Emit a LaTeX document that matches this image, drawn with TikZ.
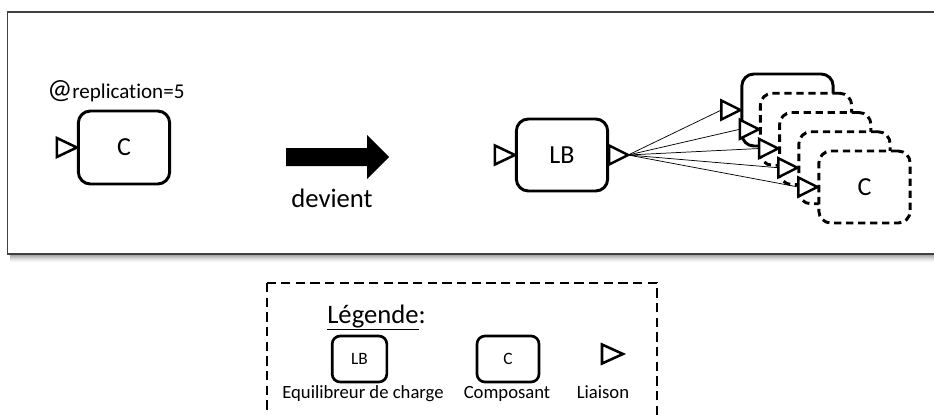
\documentclass[tikz,border=0pt]{standalone}
\usepackage{fontspec}
\setmainfont{Carlito}[Ligatures=NoCommon]
\tikzset{
  comp/.style={draw, fill=white, line width=2.2pt, rounded corners=9pt, inner sep=0pt,
    minimum width=68.5pt, minimum height=54pt},
  compd/.style={comp, dash pattern=on 5.5pt off 3.5pt},
  smallcomp/.style={draw, fill=white, line width=2pt, rounded corners=6pt, inner sep=0pt,
    minimum width=#1, minimum height=34.5pt},
  portstyle/.style={draw, fill=white, line width=1.9pt, line join=miter},
  link/.style={line width=0.55pt},
  lbl/.style={inner sep=0pt},
  framecol/.style={draw=black!75, line width=1.1pt},
}
\newcommand\myport[3][20]{%
  \draw[portstyle] (#3) -- ++(-#1,9.5) -- ++(0,-19) -- cycle;
  \coordinate (#2) at ([xshift=-#1*0.75pt]#3);}
\begin{document}
\begin{tikzpicture}[x=0.75pt,y=-0.75pt]
\useasboundingbox (0,0) rectangle (934,414);
% shadow of main frame
\foreach \d/\o in {1/0.35,2/0.28,3/0.22,4/0.16,5/0.11,6/0.07,7/0.04}{
  \fill[black,opacity=\o] (10,254+\d) rectangle (940,255+\d);
}
\draw[framecol] (940,12) -- (7.5,12) -- (7.5,254) -- (940,254);

% left: replicated component
\node[comp, minimum height=54.75pt] (c) at (124,147.5) {\fontsize{19.5}{22}\selectfont C};
\myport{cin}{c.west}
\node[lbl, anchor=base west] (rep) at (47,98)
  {{\fontsize{21}{24}\selectfont @}{\fontsize{15.8}{19}\selectfont replication=5}};

% big arrow
\fill (286,148) -- (367,148) -- (367,135) -- (389,157) -- (367,179) -- (367,166) -- (286,166) -- cycle;
\node[lbl, anchor=base] (dev) at (332,207) {\fontsize{20}{24}\selectfont devient};

% right: load balancer
\node[comp] (lb) at (562,155) {\fontsize{19.5}{22}\selectfont LB};
\myport{lbin}{lb.west}
\draw[portstyle] (lb.east) -- ++(0,9.5) -- ++(19,-9.5) -- ++(-19,-9.5) -- cycle;
\coordinate (lbout) at ([xshift=14.25pt]lb.east);

% stack of components
\node[comp] (s1) at (787.5,110) {};
\myport[19]{p1}{s1.west}
\node[compd] (s2) at (806,129.25) {};
\myport[19]{p2}{s2.west}
\node[compd] (s3) at (825.25,148.5) {};
\myport[19]{p3}{s3.west}
\node[compd] (s4) at (844.5,167.75) {};
\myport[19]{p4}{s4.west}
\node[compd] (s5) at (864.5,187) {\fontsize{19.5}{22}\selectfont C};
\myport[19]{p5}{s5.west}
\foreach \p in {p1,p2,p3,p4,p5}{\draw[link] (lbout) -- (\p);}

% legend
\draw[line width=1.8pt, dash pattern=on 7pt off 4pt] (267,283) rectangle (657,440);
\node[lbl, anchor=base west] (leg) at (327,323) {\fontsize{20}{24}\selectfont\underline{Légende}:};
\node[smallcomp=41pt] (llb) at (359.5,359) {\fontsize{13}{15}\selectfont LB};
\node[smallcomp=46.5pt] (lc) at (508,359) {\fontsize{13}{15}\selectfont C};
\coordinate (ltip) at (623,354);
\myport[21]{lport}{ltip}
\node[lbl] (t1) at (363,394) {\fontsize{14}{17}\selectfont Equilibreur de charge};
\node[lbl] (t2) at (507,394) {\fontsize{14}{17}\selectfont Composant};
\node[lbl] (t3) at (603,392) {\fontsize{14}{17}\selectfont Liaison};
\end{tikzpicture}
\end{document}
